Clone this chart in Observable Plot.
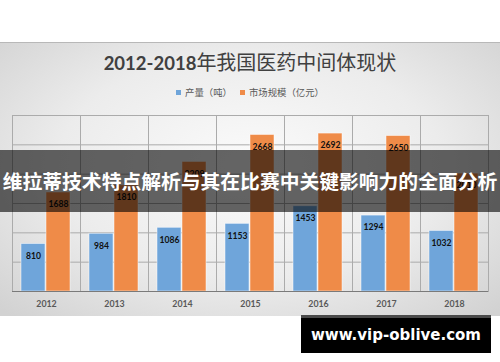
<!DOCTYPE html>
<html>
<head>
<meta charset="utf-8">
<script src="https://cdn.jsdelivr.net/npm/d3@7"></script>
<script src="https://cdn.jsdelivr.net/npm/@observablehq/plot@0.6"></script>
<style>
  html, body { margin: 0; padding: 0; background: #fff; }
  #root { position: relative; width: 500px; height: 362px; overflow: hidden; background: #fff; }
  #panel { position: absolute; left: 0; top: 42px; width: 500px; height: 274px;
    background: radial-gradient(ellipse 70% 75% at 50% 45%, #fbfbfb 0%, #ececec 55%, #d2d2d2 100%);
    border-top: 1px solid #b8b8b8; box-sizing: border-box; }
  #title { position: absolute; left: 0; top: 50px; width: 500px; height: 24px; line-height: 24px;
    text-align: center; color: #404040; white-space: nowrap; font-family: "Noto Sans CJK SC", sans-serif; font-size: 20px; }
  #title .num { font-family: Lato, "Open Sans", sans-serif; font-weight: 700; font-size: 18.5px; }
  #legend { position: absolute; left: 0; top: 86px; width: 500px; height: 12px; line-height: 12px;
    text-align: center; font-family: "Noto Sans CJK SC", sans-serif; font-size: 9.4px; color: #595959; white-space: nowrap; }
  #legend .sw { display: inline-block; width: 5px; height: 5px; margin-right: 4px; vertical-align: 1px; }
  #legend .item { margin: 0 4px; }
  #chart { position: absolute; left: 0; top: 100px; }
  #band { position: absolute; left: 0; top: 150px; width: 500px; height: 62px; line-height: 62px;
    background: rgba(0,0,0,0.6); color: #fff; text-align: center; white-space: nowrap;
    font-family: "Noto Sans CJK SC", sans-serif; font-weight: 700; font-size: 19.8px; }
  #wm { position: absolute; left: 301px; top: 315px; width: 190px; height: 38px; background: #000;
    border-top: 3px solid #4a4a4a; box-sizing: border-box; color: #fff; text-align: center;
    line-height: 34px; font-family: "DejaVu Sans", sans-serif; font-weight: 700; font-size: 15px; white-space: nowrap; }
</style>
</head>
<body>
<div id="root">
  <div id="panel"></div>
  <div id="title"><span class="num">2012-2018</span>年我国医药中间体现状</div>
  <div id="legend"></div>
  <div id="chart"></div>
  <div id="band">维拉蒂技术特点解析与其在比赛中关键影响力的全面分析</div>
  <div id="wm">www.vip-oblive.com</div>
</div>
<script>
const years = ["2012", "2013", "2014", "2015", "2016", "2017", "2018"];
const seriesNames = ["产量（吨）", "市场规模（亿元）"];
const production = [810, 984, 1086, 1153, 1453, 1294, 1032];
const market = [1688, 1810, 2209, 2668, 2692, 2650, 2010];
const seriesColors = ["#6fa5da", "#ef8b48"];
const yTicks = [0, 500, 1000, 1500, 2000, 2500, 3000];

const rows = [];
years.forEach((yr, i) => {
  rows.push({year: yr, series: seriesNames[0], value: production[i]});
  rows.push({year: yr, series: seriesNames[1], value: market[i]});
});

// legend
const legend = document.getElementById("legend");
seriesNames.forEach((s, i) => {
  const span = document.createElement("span");
  span.className = "item";
  span.innerHTML = `<span class="sw" style="background:${seriesColors[i]}"></span>${s}`;
  legend.appendChild(span);
});

const chart = Plot.plot({
  width: 500,
  height: 216,
  marginTop: 15,
  marginBottom: 25,
  marginLeft: 12,
  marginRight: 12,
  style: {background: "transparent", fontFamily: "Lato, sans-serif"},
  fx: {domain: years, padding: 0, axis: "bottom", label: null, tickSize: 0, tickPadding: 9},
  x: {domain: seriesNames, axis: null, paddingInner: 0.03, paddingOuter: 0.36},
  y: {domain: [0, 3000], axis: null},
  color: {domain: seriesNames, range: seriesColors},
  marks: [
    Plot.gridY(yTicks, {stroke: "#ababab", strokeOpacity: 1}),
    Plot.frame({stroke: "#ababab", strokeOpacity: 1}),
    Plot.barY(rows, {fx: "year", x: "series", y: "value", fill: "series",
      stroke: "#ffffff", strokeWidth: 0.8, strokeOpacity: 0.6}),
    Plot.text(rows, {fx: "year", x: "series", y: "value", text: d => String(d.value),
      dy: 12, fill: "#111", fontWeight: 700, fontSize: 8.6}),
    Plot.ruleY([0], {stroke: "#7a7a7a", strokeWidth: 1.2})
  ]
});
// style fx axis labels
chart.querySelectorAll("[aria-label='fx-axis tick label'] text, [aria-label='fx-axis tick label']").forEach(el => {
  el.setAttribute("font-weight", "700");
  el.setAttribute("font-size", "8.8");
  el.setAttribute("fill", "#595959");
});
document.getElementById("chart").appendChild(chart);
</script>
</body>
</html>
